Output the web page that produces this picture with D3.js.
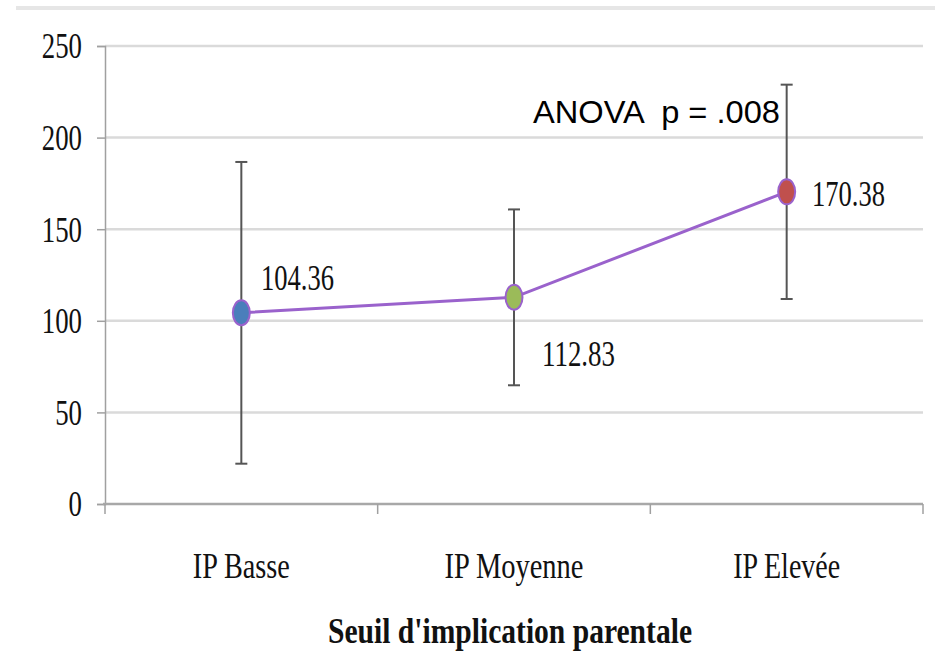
<!DOCTYPE html>
<html>
<head>
<meta charset="utf-8">
<script src="https://cdn.jsdelivr.net/npm/d3@7"></script>
<style>
  html, body { margin: 0; padding: 0; background: #fff; }
  svg { display: block; }
</style>
</head>
<body>
<svg id="chart" width="935" height="659"></svg>
<script>
const categories = ["IP Basse", "IP Moyenne", "IP Elevée"];
const means = [104.36, 112.83, 170.38];
const errorLow = [22.0, 64.8, 111.9];
const errorHigh = [186.7, 160.8, 228.9];
const valueLabels = ["104.36", "112.83", "170.38"];
const markerColors = ["#4a7ebb", "#9bbb59", "#c0504d"];
const yTicks = [0, 50, 100, 150, 200, 250];
const xTitle = "Seuil d'implication parentale";
const annotation = "ANOVA  p = .008";

(function () {
const svg = d3.select("#chart");
const plotLeft = 105, plotRight = 923, plotTop = 46, plotBottom = 504;

const x = d3.scaleBand().domain(categories).range([plotLeft, plotRight]).padding(0);
const y = d3.scaleLinear().domain([0, 250]).range([plotBottom, plotTop]);
const cx = c => x(c) + x.bandwidth() / 2;

// top decorative line
svg.append("line").attr("x1", 16).attr("x2", 935).attr("y1", 8).attr("y2", 8)
  .attr("stroke", "#e6e6e6").attr("stroke-width", 4);

// gridlines
svg.append("g").selectAll("line").data(yTicks.filter(d => d > 0)).join("line")
  .attr("x1", plotLeft).attr("x2", plotRight)
  .attr("y1", d => y(d)).attr("y2", d => y(d))
  .attr("stroke", "#dadada").attr("stroke-width", 2.5);

// y axis
const yAxis = svg.append("g").attr("transform", `translate(${plotLeft},0)`)
  .call(d3.axisLeft(y).tickValues(yTicks).tickSize(8).tickPadding(15).tickFormat(d3.format("d")));
yAxis.select(".domain").attr("stroke", "#a0a0a0").attr("stroke-width", 1.5);
yAxis.selectAll(".tick line").attr("stroke", "#a0a0a0").attr("stroke-width", 1.5);
yAxis.selectAll(".tick text")
  .attr("font-family", "'Liberation Serif', serif").attr("font-size", 35)
  .attr("fill", "#111").attr("dy", "0.34em")
  .each(function () {
    const t = d3.select(this);
    const n = t.text().length;
    t.attr("textLength", n * 13.4).attr("lengthAdjust", "spacingAndGlyphs");
  });

// x axis
const xAxisG = svg.append("g").attr("transform", `translate(0,${plotBottom})`);
xAxisG.append("line").attr("x1", plotLeft - 2).attr("x2", plotRight).attr("y1", 0).attr("y2", 0)
  .attr("stroke", "#a8a8a8").attr("stroke-width", 2.5);
const boundaries = categories.map(c => x(c)).concat([x(categories[categories.length - 1]) + x.bandwidth()]);
xAxisG.selectAll("line.tk").data(boundaries).join("line").attr("class", "tk")
  .attr("x1", d => d).attr("x2", d => d).attr("y1", 0).attr("y2", 10)
  .attr("stroke", "#a0a0a0").attr("stroke-width", 1.5);
xAxisG.selectAll("text").data(categories).join("text")
  .attr("x", d => cx(d)).attr("y", 74)
  .attr("text-anchor", "middle")
  .attr("font-family", "'Liberation Serif', serif").attr("font-size", 35)
  .attr("fill", "#111")
  .attr("textLength", (d, i) => [97, 139, 107][i]).attr("lengthAdjust", "spacingAndGlyphs")
  .text(d => d);

// x title
svg.append("text").attr("x", 510).attr("y", 643).attr("text-anchor", "middle")
  .attr("font-family", "'Liberation Serif', serif").attr("font-size", 36).attr("font-weight", "bold")
  .attr("fill", "#111").attr("textLength", 364).attr("lengthAdjust", "spacingAndGlyphs")
  .text(xTitle);

// error bars
const eb = svg.append("g").attr("stroke", "#555").attr("stroke-width", 2);
categories.forEach((c, i) => {
  eb.append("line").attr("x1", cx(c)).attr("x2", cx(c)).attr("y1", y(errorLow[i])).attr("y2", y(errorHigh[i]));
  eb.append("line").attr("x1", cx(c) - 6).attr("x2", cx(c) + 6).attr("y1", y(errorLow[i])).attr("y2", y(errorLow[i]));
  eb.append("line").attr("x1", cx(c) - 6).attr("x2", cx(c) + 6).attr("y1", y(errorHigh[i])).attr("y2", y(errorHigh[i]));
});

// line
const line = d3.line().x((d, i) => cx(categories[i])).y(d => y(d));
svg.append("path").datum(means).attr("d", line)
  .attr("fill", "none").attr("stroke", "#9a62cc").attr("stroke-width", 3);

// markers
svg.append("g").selectAll("ellipse").data(means).join("ellipse")
  .attr("cx", (d, i) => cx(categories[i])).attr("cy", d => y(d))
  .attr("rx", 8.5).attr("ry", 12.5)
  .attr("fill", (d, i) => markerColors[i])
  .attr("stroke", "#9a62cc").attr("stroke-width", 2);

// value labels
const labelPos = [[261, 290], [542, 366], [812, 206]];
svg.append("g").selectAll("text").data(valueLabels).join("text")
  .attr("x", (d, i) => labelPos[i][0]).attr("y", (d, i) => labelPos[i][1])
  .attr("font-family", "'Liberation Serif', serif").attr("font-size", 35)
  .attr("fill", "#111").attr("textLength", 73).attr("lengthAdjust", "spacingAndGlyphs")
  .text(d => d);

// annotation
svg.append("text").attr("x", 533).attr("y", 123)
  .attr("font-family", "'Liberation Sans', 'Open Sans', sans-serif").attr("font-size", 32)
  .attr("fill", "#000").attr("textLength", 247).attr("lengthAdjust", "spacingAndGlyphs")
  .attr("xml:space", "preserve").style("white-space", "pre")
  .text(annotation);
})();
</script>
</body>
</html>
